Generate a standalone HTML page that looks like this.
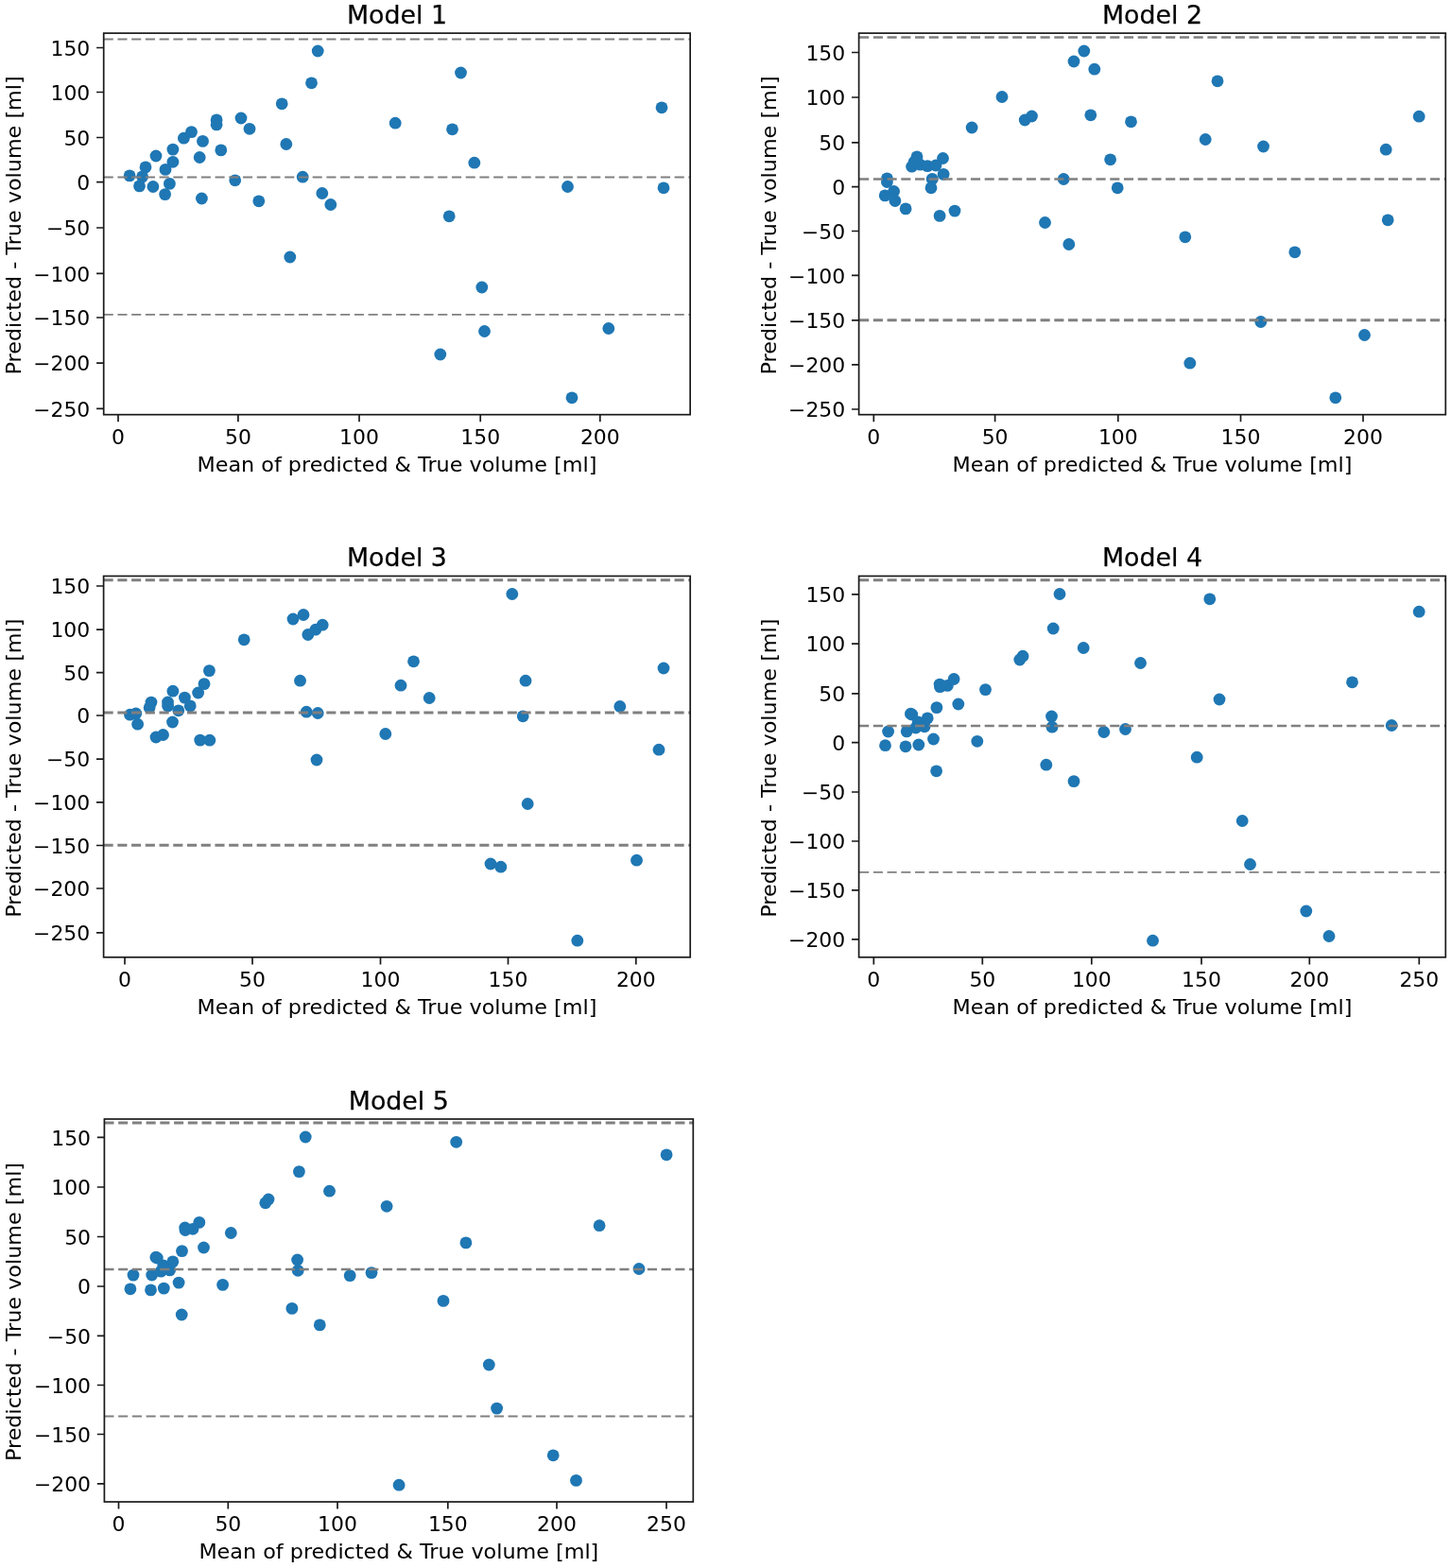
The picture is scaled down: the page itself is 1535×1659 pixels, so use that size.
<!DOCTYPE html>
<html lang="en">
<head>
<meta charset="utf-8">
<title>Bland-Altman plots: Model 1-5</title>
<style>
html,body{margin:0;padding:0;background:#fff;}
body{width:1535px;height:1659px;overflow:hidden;}
svg{display:block;filter:blur(0.45px);}
text{font-family:"DejaVu Sans","Liberation Sans",sans-serif;fill:#000;}
.al{font-size:22.3px;}
.kl{font-size:21.9px;}
.ti{font-size:26.8px;stroke:#000;stroke-width:0.25px;}
.fr{fill:none;stroke:#1a1a1a;stroke-width:1.7;}
.t{stroke:#1a1a1a;stroke-width:1.7;fill:none;}
.d{stroke:#808080;fill:none;stroke-dasharray:10.1 4.63;}
.p{fill:#1f77b4;}
</style>
</head>
<body>
<svg width="1535" height="1659" viewBox="0 0 1535 1659">
<rect x="0" y="0" width="1535" height="1659" fill="#ffffff"/>
<g id="panel1">
<g class="p"><circle cx="137.1" cy="185.9" r="6.4"/><circle cx="154" cy="176.9" r="6.4"/><circle cx="150.6" cy="186.9" r="6.4"/><circle cx="147.5" cy="196.9" r="6.4"/><circle cx="161.9" cy="197.5" r="6.4"/><circle cx="165" cy="165" r="6.4"/><circle cx="182.9" cy="158.1" r="6.4"/><circle cx="182.9" cy="171.3" r="6.4"/><circle cx="175" cy="179.4" r="6.4"/><circle cx="179.4" cy="194.4" r="6.4"/><circle cx="174.6" cy="205.6" r="6.4"/><circle cx="194.4" cy="146.2" r="6.4"/><circle cx="202.5" cy="139.6" r="6.4"/><circle cx="214.5" cy="149.4" r="6.4"/><circle cx="211.2" cy="166.5" r="6.4"/><circle cx="233.8" cy="158.9" r="6.4"/><circle cx="229.1" cy="126.9" r="6.4"/><circle cx="229.1" cy="131.9" r="6.4"/><circle cx="255" cy="125" r="6.4"/><circle cx="264" cy="136.3" r="6.4"/><circle cx="248.7" cy="190.8" r="6.4"/><circle cx="213.4" cy="210" r="6.4"/><circle cx="273.8" cy="212.8" r="6.4"/><circle cx="298.2" cy="109.8" r="6.4"/><circle cx="302.8" cy="152.5" r="6.4"/><circle cx="320.2" cy="187.2" r="6.4"/><circle cx="329.5" cy="87.8" r="6.4"/><circle cx="336.2" cy="54" r="6.4"/><circle cx="340.8" cy="204.5" r="6.4"/><circle cx="349.8" cy="216.5" r="6.4"/><circle cx="418.2" cy="130.2" r="6.4"/><circle cx="487.5" cy="77" r="6.4"/><circle cx="478.5" cy="136.8" r="6.4"/><circle cx="501.8" cy="172.2" r="6.4"/><circle cx="475.2" cy="228.8" r="6.4"/><circle cx="600.5" cy="197.5" r="6.4"/><circle cx="700" cy="113.8" r="6.4"/><circle cx="702" cy="198.8" r="6.4"/><circle cx="306.8" cy="272" r="6.4"/><circle cx="509.8" cy="304" r="6.4"/><circle cx="512.5" cy="350.5" r="6.4"/><circle cx="465.8" cy="375" r="6.4"/><circle cx="643.8" cy="347.5" r="6.4"/><circle cx="605" cy="420.8" r="6.4"/></g>
<line class="d" x1="109.7" y1="41.45" x2="730.15" y2="41.45" stroke-width="2.1"/>
<line class="d" x1="109.7" y1="187.5" x2="730.15" y2="187.5" stroke-width="1.8"/>
<line class="d" x1="109.7" y1="332.9" x2="730.15" y2="332.9" stroke-width="1.9"/>
<path class="t" d="M125 438.7v7.6M251.9 438.7v7.6M380 438.7v7.6M508.2 438.7v7.6M634.8 438.7v7.6M109.7 50.5h-7.6M109.7 97.5h-7.6M109.7 145.5h-7.6M109.7 192.7h-7.6M109.7 241h-7.6M109.7 289.3h-7.6M109.7 336h-7.6M109.7 384.2h-7.6M109.7 432.4h-7.6"/>
<rect class="fr" x="109.7" y="35.1" width="620.45" height="403.6"/>
<text class="kl" transform="translate(125 469.6) scale(1 0.95)" text-anchor="middle">0</text>
<text class="kl" transform="translate(251.9 469.6) scale(1 0.95)" text-anchor="middle">50</text>
<text class="kl" transform="translate(380 469.6) scale(1 0.95)" text-anchor="middle">100</text>
<text class="kl" transform="translate(508.2 469.6) scale(1 0.95)" text-anchor="middle">150</text>
<text class="kl" transform="translate(634.8 469.6) scale(1 0.95)" text-anchor="middle">200</text>
<text class="kl" transform="translate(95.3 58.7) scale(1 0.95)" text-anchor="end">150</text>
<text class="kl" transform="translate(95.3 105.7) scale(1 0.95)" text-anchor="end">100</text>
<text class="kl" transform="translate(95.3 153.7) scale(1 0.95)" text-anchor="end">50</text>
<text class="kl" transform="translate(95.3 200.9) scale(1 0.95)" text-anchor="end">0</text>
<text class="kl" transform="translate(95.3 249.2) scale(1 0.95)" text-anchor="end">−50</text>
<text class="kl" transform="translate(95.3 297.5) scale(1 0.95)" text-anchor="end">−100</text>
<text class="kl" transform="translate(95.3 344.2) scale(1 0.95)" text-anchor="end">−150</text>
<text class="kl" transform="translate(95.3 392.4) scale(1 0.95)" text-anchor="end">−200</text>
<text class="kl" transform="translate(95.3 440.6) scale(1 0.95)" text-anchor="end">−250</text>
<text class="al" transform="translate(419.93 498.6) scale(1 0.94)" text-anchor="middle">Mean of predicted &amp; True volume [ml]</text>
<text class="al" transform="translate(22.3 238.4) rotate(-90) scale(1 0.94)" text-anchor="middle">Predicted - True volume [ml]</text>
<text class="ti" x="419.93" y="24.9" text-anchor="middle">Model 1</text>
</g>
<g id="panel2">
<g class="p"><circle cx="938.4" cy="188.8" r="6.4"/><circle cx="938.4" cy="192.5" r="6.4"/><circle cx="945.6" cy="202.5" r="6.4"/><circle cx="936.2" cy="206.9" r="6.4"/><circle cx="946.9" cy="212.5" r="6.4"/><circle cx="958.1" cy="220.9" r="6.4"/><circle cx="970" cy="165.8" r="6.4"/><circle cx="964.6" cy="176.2" r="6.4"/><circle cx="967.2" cy="171.2" r="6.4"/><circle cx="973.5" cy="174.2" r="6.4"/><circle cx="981.2" cy="175.6" r="6.4"/><circle cx="990" cy="175" r="6.4"/><circle cx="997.5" cy="167.5" r="6.4"/><circle cx="998.1" cy="184.4" r="6.4"/><circle cx="986.2" cy="189.4" r="6.4"/><circle cx="985" cy="198.8" r="6.4"/><circle cx="994.1" cy="228.4" r="6.4"/><circle cx="1010" cy="223.1" r="6.4"/><circle cx="1028.1" cy="135" r="6.4"/><circle cx="1060" cy="102.5" r="6.4"/><circle cx="1084.2" cy="127" r="6.4"/><circle cx="1091.5" cy="123" r="6.4"/><circle cx="1105.5" cy="235.5" r="6.4"/><circle cx="1125.2" cy="189.5" r="6.4"/><circle cx="1130.8" cy="258.5" r="6.4"/><circle cx="1136" cy="65" r="6.4"/><circle cx="1146.8" cy="54" r="6.4"/><circle cx="1157.8" cy="73.2" r="6.4"/><circle cx="1153.8" cy="121.8" r="6.4"/><circle cx="1174.6" cy="168.8" r="6.4"/><circle cx="1182.2" cy="198.8" r="6.4"/><circle cx="1196.5" cy="128.8" r="6.4"/><circle cx="1253.8" cy="250.8" r="6.4"/><circle cx="1275.2" cy="147.5" r="6.4"/><circle cx="1288" cy="85.8" r="6.4"/><circle cx="1336.5" cy="155" r="6.4"/><circle cx="1466.2" cy="158.2" r="6.4"/><circle cx="1501.2" cy="123.2" r="6.4"/><circle cx="1468.2" cy="232.8" r="6.4"/><circle cx="1369.8" cy="266.8" r="6.4"/><circle cx="1333.8" cy="340.5" r="6.4"/><circle cx="1258.8" cy="384.2" r="6.4"/><circle cx="1443.5" cy="354.5" r="6.4"/><circle cx="1412.8" cy="420.8" r="6.4"/></g>
<line class="d" x1="908.6" y1="39.6" x2="1529.3" y2="39.6" stroke-width="2.5" stroke-dashoffset="-0.5"/>
<line class="d" x1="908.6" y1="189.55" x2="1529.3" y2="189.55" stroke-width="2.6" stroke-dashoffset="-0.5"/>
<line class="d" x1="908.6" y1="338.8" x2="1529.3" y2="338.8" stroke-width="3.1" stroke-dashoffset="-0.5"/>
<path class="t" d="M924.3 438.7v7.6M1052.6 438.7v7.6M1182.8 438.7v7.6M1312.5 438.7v7.6M1442 438.7v7.6M908.6 55.5h-7.6M908.6 103h-7.6M908.6 150.8h-7.6M908.6 197.7h-7.6M908.6 244.5h-7.6M908.6 291.3h-7.6M908.6 338.8h-7.6M908.6 385.8h-7.6M908.6 433h-7.6"/>
<rect class="fr" x="908.6" y="35.1" width="620.7" height="403.6"/>
<text class="kl" transform="translate(924.3 469.6) scale(1 0.95)" text-anchor="middle">0</text>
<text class="kl" transform="translate(1052.6 469.6) scale(1 0.95)" text-anchor="middle">50</text>
<text class="kl" transform="translate(1182.8 469.6) scale(1 0.95)" text-anchor="middle">100</text>
<text class="kl" transform="translate(1312.5 469.6) scale(1 0.95)" text-anchor="middle">150</text>
<text class="kl" transform="translate(1442 469.6) scale(1 0.95)" text-anchor="middle">200</text>
<text class="kl" transform="translate(894.2 63.7) scale(1 0.95)" text-anchor="end">150</text>
<text class="kl" transform="translate(894.2 111.2) scale(1 0.95)" text-anchor="end">100</text>
<text class="kl" transform="translate(894.2 159) scale(1 0.95)" text-anchor="end">50</text>
<text class="kl" transform="translate(894.2 205.9) scale(1 0.95)" text-anchor="end">0</text>
<text class="kl" transform="translate(894.2 252.7) scale(1 0.95)" text-anchor="end">−50</text>
<text class="kl" transform="translate(894.2 299.5) scale(1 0.95)" text-anchor="end">−100</text>
<text class="kl" transform="translate(894.2 347) scale(1 0.95)" text-anchor="end">−150</text>
<text class="kl" transform="translate(894.2 394) scale(1 0.95)" text-anchor="end">−200</text>
<text class="kl" transform="translate(894.2 441.2) scale(1 0.95)" text-anchor="end">−250</text>
<text class="al" transform="translate(1218.95 498.6) scale(1 0.94)" text-anchor="middle">Mean of predicted &amp; True volume [ml]</text>
<text class="al" transform="translate(821.2 238.4) rotate(-90) scale(1 0.94)" text-anchor="middle">Predicted - True volume [ml]</text>
<text class="ti" x="1218.95" y="24.9" text-anchor="middle">Model 2</text>
</g>
<g id="panel3">
<g class="p"><circle cx="137.5" cy="756.2" r="6.4"/><circle cx="143.8" cy="755" r="6.4"/><circle cx="145.6" cy="766.2" r="6.4"/><circle cx="160" cy="743.1" r="6.4"/><circle cx="158.1" cy="748.8" r="6.4"/><circle cx="177.5" cy="743" r="6.4"/><circle cx="177.6" cy="747" r="6.4"/><circle cx="182.9" cy="731.2" r="6.4"/><circle cx="195.4" cy="738.1" r="6.4"/><circle cx="201.2" cy="746.9" r="6.4"/><circle cx="188.8" cy="751.8" r="6.4"/><circle cx="182.5" cy="764" r="6.4"/><circle cx="165" cy="780" r="6.4"/><circle cx="172.5" cy="777.5" r="6.4"/><circle cx="209.6" cy="733" r="6.4"/><circle cx="216" cy="723.6" r="6.4"/><circle cx="221.4" cy="709.6" r="6.4"/><circle cx="211.7" cy="783.1" r="6.4"/><circle cx="221.8" cy="783.2" r="6.4"/><circle cx="258.2" cy="676.8" r="6.4"/><circle cx="310" cy="655" r="6.4"/><circle cx="321" cy="650.5" r="6.4"/><circle cx="325.8" cy="671.5" r="6.4"/><circle cx="333.8" cy="666.2" r="6.4"/><circle cx="341.2" cy="661.2" r="6.4"/><circle cx="317.5" cy="720.2" r="6.4"/><circle cx="324.2" cy="753.2" r="6.4"/><circle cx="336.2" cy="754.5" r="6.4"/><circle cx="335" cy="804" r="6.4"/><circle cx="541.8" cy="628.5" r="6.4"/><circle cx="437.5" cy="699.8" r="6.4"/><circle cx="424" cy="725.2" r="6.4"/><circle cx="454.2" cy="738.5" r="6.4"/><circle cx="407.8" cy="776.5" r="6.4"/><circle cx="556" cy="720.2" r="6.4"/><circle cx="553.2" cy="757.8" r="6.4"/><circle cx="655.8" cy="747.5" r="6.4"/><circle cx="702" cy="707" r="6.4"/><circle cx="697" cy="793.2" r="6.4"/><circle cx="558.2" cy="850.5" r="6.4"/><circle cx="519" cy="914" r="6.4"/><circle cx="529.8" cy="917.2" r="6.4"/><circle cx="673.5" cy="910.2" r="6.4"/><circle cx="610.8" cy="995.2" r="6.4"/></g>
<line class="d" x1="109.6" y1="613.8" x2="730.2" y2="613.8" stroke-width="3.1"/>
<line class="d" x1="109.6" y1="754" x2="730.2" y2="754" stroke-width="3.1"/>
<line class="d" x1="109.6" y1="894.3" x2="730.2" y2="894.3" stroke-width="3.1"/>
<path class="t" d="M132 1012.8v7.6M267 1012.8v7.6M402.5 1012.8v7.6M537.5 1012.8v7.6M672.8 1012.8v7.6M109.6 620h-7.6M109.6 666.2h-7.6M109.6 711.6h-7.6M109.6 757h-7.6M109.6 803.2h-7.6M109.6 848.8h-7.6M109.6 894.5h-7.6M109.6 940h-7.6M109.6 986.8h-7.6"/>
<rect class="fr" x="109.6" y="609.5" width="620.6" height="403.3"/>
<text class="kl" transform="translate(132 1043.7) scale(1 0.95)" text-anchor="middle">0</text>
<text class="kl" transform="translate(267 1043.7) scale(1 0.95)" text-anchor="middle">50</text>
<text class="kl" transform="translate(402.5 1043.7) scale(1 0.95)" text-anchor="middle">100</text>
<text class="kl" transform="translate(537.5 1043.7) scale(1 0.95)" text-anchor="middle">150</text>
<text class="kl" transform="translate(672.8 1043.7) scale(1 0.95)" text-anchor="middle">200</text>
<text class="kl" transform="translate(95.2 628.2) scale(1 0.95)" text-anchor="end">150</text>
<text class="kl" transform="translate(95.2 674.4) scale(1 0.95)" text-anchor="end">100</text>
<text class="kl" transform="translate(95.2 719.8) scale(1 0.95)" text-anchor="end">50</text>
<text class="kl" transform="translate(95.2 765.2) scale(1 0.95)" text-anchor="end">0</text>
<text class="kl" transform="translate(95.2 811.4) scale(1 0.95)" text-anchor="end">−50</text>
<text class="kl" transform="translate(95.2 857) scale(1 0.95)" text-anchor="end">−100</text>
<text class="kl" transform="translate(95.2 902.7) scale(1 0.95)" text-anchor="end">−150</text>
<text class="kl" transform="translate(95.2 948.2) scale(1 0.95)" text-anchor="end">−200</text>
<text class="kl" transform="translate(95.2 995) scale(1 0.95)" text-anchor="end">−250</text>
<text class="al" transform="translate(419.9 1072.7) scale(1 0.94)" text-anchor="middle">Mean of predicted &amp; True volume [ml]</text>
<text class="al" transform="translate(22.2 812.65) rotate(-90) scale(1 0.94)" text-anchor="middle">Predicted - True volume [ml]</text>
<text class="ti" x="419.9" y="599.3" text-anchor="middle">Model 3</text>
</g>
<g id="panel4">
<g class="p"><circle cx="939.6" cy="774" r="6.4"/><circle cx="936.5" cy="788.7" r="6.4"/><circle cx="958" cy="789.8" r="6.4"/><circle cx="959.2" cy="773.9" r="6.4"/><circle cx="963.4" cy="755.2" r="6.4"/><circle cx="964.8" cy="756" r="6.4"/><circle cx="981.2" cy="759.9" r="6.4"/><circle cx="971.2" cy="763.8" r="6.4"/><circle cx="968.8" cy="770" r="6.4"/><circle cx="978.1" cy="768.8" r="6.4"/><circle cx="971.8" cy="788" r="6.4"/><circle cx="987.5" cy="782" r="6.4"/><circle cx="990.9" cy="748.6" r="6.4"/><circle cx="990.6" cy="815.8" r="6.4"/><circle cx="994.1" cy="724.1" r="6.4"/><circle cx="994.4" cy="726.6" r="6.4"/><circle cx="1002.3" cy="725.4" r="6.4"/><circle cx="1009.1" cy="718.5" r="6.4"/><circle cx="1013.8" cy="745" r="6.4"/><circle cx="1033.8" cy="784.3" r="6.4"/><circle cx="1042.5" cy="729.6" r="6.4"/><circle cx="1078.8" cy="698" r="6.4"/><circle cx="1082" cy="694.2" r="6.4"/><circle cx="1114.2" cy="665" r="6.4"/><circle cx="1121" cy="628.5" r="6.4"/><circle cx="1146.2" cy="685.5" r="6.4"/><circle cx="1112.5" cy="758" r="6.4"/><circle cx="1113" cy="769.2" r="6.4"/><circle cx="1106.8" cy="809.2" r="6.4"/><circle cx="1136" cy="826.6" r="6.4"/><circle cx="1167.8" cy="774.5" r="6.4"/><circle cx="1190.5" cy="771.5" r="6.4"/><circle cx="1206.5" cy="701.5" r="6.4"/><circle cx="1279.8" cy="633.8" r="6.4"/><circle cx="1290" cy="740" r="6.4"/><circle cx="1266.2" cy="801.2" r="6.4"/><circle cx="1430.5" cy="721.8" r="6.4"/><circle cx="1472.2" cy="767.5" r="6.4"/><circle cx="1501.2" cy="647.2" r="6.4"/><circle cx="1314.2" cy="868.5" r="6.4"/><circle cx="1322.5" cy="914.5" r="6.4"/><circle cx="1381.8" cy="964" r="6.4"/><circle cx="1406" cy="990.5" r="6.4"/><circle cx="1219.5" cy="995.2" r="6.4"/></g>
<line class="d" x1="908.6" y1="613.8" x2="1529.3" y2="613.8" stroke-width="3.1" stroke-dashoffset="-0.5"/>
<line class="d" x1="908.6" y1="768.1" x2="1529.3" y2="768.1" stroke-width="2.5" stroke-dashoffset="-0.5"/>
<line class="d" x1="908.6" y1="922.8" x2="1529.3" y2="922.8" stroke-width="1.8" stroke-dashoffset="-0.5"/>
<path class="t" d="M924.3 1012.8v7.6M1039.3 1012.8v7.6M1154.8 1012.8v7.6M1271 1012.8v7.6M1385.3 1012.8v7.6M1501.3 1012.8v7.6M908.6 628.8h-7.6M908.6 681.2h-7.6M908.6 733.8h-7.6M908.6 785.7h-7.6M908.6 838h-7.6M908.6 890h-7.6M908.6 941.8h-7.6M908.6 993.8h-7.6"/>
<rect class="fr" x="908.6" y="609.5" width="620.7" height="403.3"/>
<text class="kl" transform="translate(924.3 1043.7) scale(1 0.95)" text-anchor="middle">0</text>
<text class="kl" transform="translate(1039.3 1043.7) scale(1 0.95)" text-anchor="middle">50</text>
<text class="kl" transform="translate(1154.8 1043.7) scale(1 0.95)" text-anchor="middle">100</text>
<text class="kl" transform="translate(1271 1043.7) scale(1 0.95)" text-anchor="middle">150</text>
<text class="kl" transform="translate(1385.3 1043.7) scale(1 0.95)" text-anchor="middle">200</text>
<text class="kl" transform="translate(1501.3 1043.7) scale(1 0.95)" text-anchor="middle">250</text>
<text class="kl" transform="translate(894.2 637) scale(1 0.95)" text-anchor="end">150</text>
<text class="kl" transform="translate(894.2 689.4) scale(1 0.95)" text-anchor="end">100</text>
<text class="kl" transform="translate(894.2 742) scale(1 0.95)" text-anchor="end">50</text>
<text class="kl" transform="translate(894.2 793.9) scale(1 0.95)" text-anchor="end">0</text>
<text class="kl" transform="translate(894.2 846.2) scale(1 0.95)" text-anchor="end">−50</text>
<text class="kl" transform="translate(894.2 898.2) scale(1 0.95)" text-anchor="end">−100</text>
<text class="kl" transform="translate(894.2 950) scale(1 0.95)" text-anchor="end">−150</text>
<text class="kl" transform="translate(894.2 1002) scale(1 0.95)" text-anchor="end">−200</text>
<text class="al" transform="translate(1218.95 1072.7) scale(1 0.94)" text-anchor="middle">Mean of predicted &amp; True volume [ml]</text>
<text class="al" transform="translate(821.2 812.65) rotate(-90) scale(1 0.94)" text-anchor="middle">Predicted - True volume [ml]</text>
<text class="ti" x="1218.95" y="599.3" text-anchor="middle">Model 4</text>
</g>
<g id="panel5">
<g class="p"><circle cx="141" cy="1349.1" r="6.4"/><circle cx="137.9" cy="1363.8" r="6.4"/><circle cx="159.5" cy="1364.9" r="6.4"/><circle cx="160.7" cy="1349" r="6.4"/><circle cx="164.9" cy="1330.2" r="6.4"/><circle cx="166.3" cy="1331" r="6.4"/><circle cx="182.8" cy="1334.9" r="6.4"/><circle cx="172.7" cy="1338.8" r="6.4"/><circle cx="170.3" cy="1345.1" r="6.4"/><circle cx="179.6" cy="1343.9" r="6.4"/><circle cx="173.3" cy="1363.1" r="6.4"/><circle cx="189.1" cy="1357.1" r="6.4"/><circle cx="192.5" cy="1323.6" r="6.4"/><circle cx="192.2" cy="1391" r="6.4"/><circle cx="195.7" cy="1299" r="6.4"/><circle cx="196" cy="1301.5" r="6.4"/><circle cx="204" cy="1300.3" r="6.4"/><circle cx="210.8" cy="1293.4" r="6.4"/><circle cx="215.5" cy="1320" r="6.4"/><circle cx="235.6" cy="1359.4" r="6.4"/><circle cx="244.3" cy="1304.5" r="6.4"/><circle cx="280.8" cy="1272.8" r="6.4"/><circle cx="284" cy="1269" r="6.4"/><circle cx="316.4" cy="1239.6" r="6.4"/><circle cx="323.2" cy="1203" r="6.4"/><circle cx="348.5" cy="1260.2" r="6.4"/><circle cx="314.6" cy="1333" r="6.4"/><circle cx="315.2" cy="1344.3" r="6.4"/><circle cx="308.9" cy="1384.4" r="6.4"/><circle cx="338.3" cy="1401.9" r="6.4"/><circle cx="370.2" cy="1349.6" r="6.4"/><circle cx="393" cy="1346.6" r="6.4"/><circle cx="409.1" cy="1276.3" r="6.4"/><circle cx="482.7" cy="1208.3" r="6.4"/><circle cx="492.9" cy="1314.9" r="6.4"/><circle cx="469" cy="1376.4" r="6.4"/><circle cx="634.1" cy="1296.7" r="6.4"/><circle cx="676" cy="1342.5" r="6.4"/><circle cx="705.1" cy="1221.8" r="6.4"/><circle cx="517.3" cy="1444" r="6.4"/><circle cx="525.6" cy="1490.1" r="6.4"/><circle cx="585.2" cy="1539.8" r="6.4"/><circle cx="609.5" cy="1566.4" r="6.4"/><circle cx="422.1" cy="1571.2" r="6.4"/></g>
<line class="d" x1="110.4" y1="1188" x2="733.3" y2="1188" stroke-width="3.1" stroke-dasharray="10.144 4.655"/>
<line class="d" x1="110.4" y1="1343" x2="733.3" y2="1343" stroke-width="2.5" stroke-dasharray="10.144 4.655"/>
<line class="d" x1="110.4" y1="1498.5" x2="733.3" y2="1498.5" stroke-width="1.8" stroke-dasharray="10.144 4.655"/>
<path class="t" d="M125.5 1589v7.6M241.3 1589v7.6M357 1589v7.6M473.8 1589v7.6M589 1589v7.6M705 1589v7.6M110.4 1203.3h-7.6M110.4 1256h-7.6M110.4 1308.5h-7.6M110.4 1361h-7.6M110.4 1413.3h-7.6M110.4 1465.5h-7.6M110.4 1517.5h-7.6M110.4 1569.8h-7.6"/>
<rect class="fr" x="110.4" y="1184" width="622.9" height="405"/>
<text class="kl" transform="translate(125.5 1619.9) scale(1 0.95)" text-anchor="middle">0</text>
<text class="kl" transform="translate(241.3 1619.9) scale(1 0.95)" text-anchor="middle">50</text>
<text class="kl" transform="translate(357 1619.9) scale(1 0.95)" text-anchor="middle">100</text>
<text class="kl" transform="translate(473.8 1619.9) scale(1 0.95)" text-anchor="middle">150</text>
<text class="kl" transform="translate(589 1619.9) scale(1 0.95)" text-anchor="middle">200</text>
<text class="kl" transform="translate(705 1619.9) scale(1 0.95)" text-anchor="middle">250</text>
<text class="kl" transform="translate(96 1211.5) scale(1 0.95)" text-anchor="end">150</text>
<text class="kl" transform="translate(96 1264.2) scale(1 0.95)" text-anchor="end">100</text>
<text class="kl" transform="translate(96 1316.7) scale(1 0.95)" text-anchor="end">50</text>
<text class="kl" transform="translate(96 1369.2) scale(1 0.95)" text-anchor="end">0</text>
<text class="kl" transform="translate(96 1421.5) scale(1 0.95)" text-anchor="end">−50</text>
<text class="kl" transform="translate(96 1473.7) scale(1 0.95)" text-anchor="end">−100</text>
<text class="kl" transform="translate(96 1525.7) scale(1 0.95)" text-anchor="end">−150</text>
<text class="kl" transform="translate(96 1578) scale(1 0.95)" text-anchor="end">−200</text>
<text class="al" transform="translate(421.85 1648.9) scale(1 0.94)" text-anchor="middle">Mean of predicted &amp; True volume [ml]</text>
<text class="al" transform="translate(22.1 1388) rotate(-90) scale(1 0.94)" text-anchor="middle">Predicted - True volume [ml]</text>
<text class="ti" x="421.85" y="1173.8" text-anchor="middle">Model 5</text>
</g>
</svg>
</body>
</html>
